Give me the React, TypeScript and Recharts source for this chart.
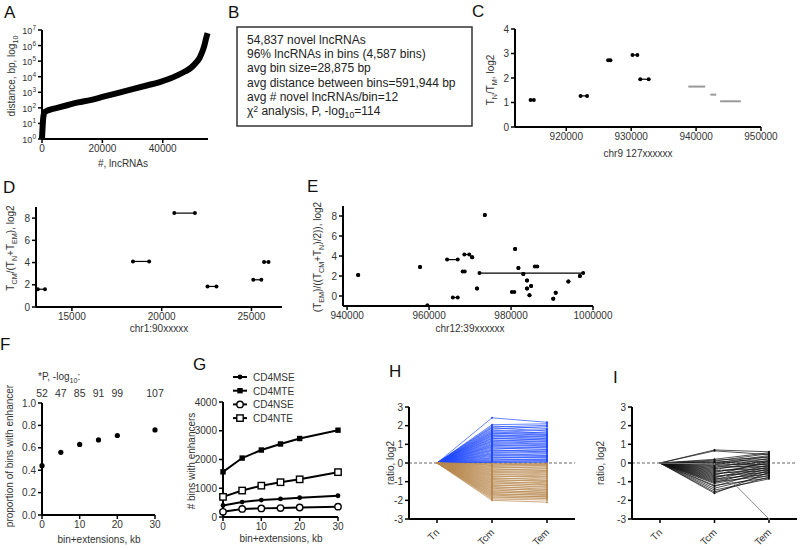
import React from 'react';
import { LineChart, Line, ScatterChart, Scatter, XAxis, YAxis, ReferenceLine } from 'recharts';

// A: lncRNA rank vs log10 distance (bp)
const aRank = [0, 150, 300, 500, 800, 1500, 3000, 5000, 8000, 12000, 16000, 20000, 25000, 30000, 35000, 39000, 42000, 45000, 47500, 49500, 51000, 52200, 53100, 53800, 54300, 54837];
const aLogDist = [0, 0.6, 1.1, 1.5, 1.7, 1.8, 1.9, 2.0, 2.15, 2.35, 2.5, 2.7, 2.95, 3.2, 3.45, 3.65, 3.85, 4.1, 4.35, 4.6, 4.9, 5.2, 5.6, 6.0, 6.4, 6.8];

// B: summary box
const bLines = [
  '54,837 novel lncRNAs',
  '96% lncRNAs in bins (4,587 bins)',
  'avg bin size=28,875 bp',
  'avg distance between bins=591,944 bp',
  'avg # novel lncRNAs/bin=12',
];

// C/D/E: segments [start, end, log2 ratio]
const cBlack = [[914500, 915000, 1.1], [922200, 923200, 1.27], [926450, 926800, 2.72], [930200, 930950, 2.94], [931400, 932700, 1.95]];
const cGray = [[938800, 941400, 1.65], [942200, 943100, 1.32], [943700, 946900, 1.05]];
const dSegs = [[13100, 13500, 1.6], [18400, 19300, 4.1], [20700, 21850, 8.45], [22550, 23050, 1.85], [25100, 25550, 2.45], [25700, 25950, 4.05]];
const eSegs = [
  [942700, 942700, 2.1], [957800, 957800, 2.9], [959600, 959600, -0.95], [964400, 967000, 3.64],
  [965800, 967000, -0.15], [968200, 968700, 2.45], [968600, 969800, 4.15], [970500, 970500, 3.87],
  [971700, 971700, 0.74], [972300, 997600, 2.29], [973600, 973600, 8.1], [980200, 980800, 0.4],
  [981000, 981000, 4.7], [981800, 981800, 2.8], [983000, 983000, 2.2], [983900, 983900, 1.55],
  [983900, 983900, 0.74], [984900, 984900, 1.0], [984500, 984500, 0.07], [985800, 986400, 2.96],
  [990300, 990300, -0.27], [990900, 990900, 0.33], [994000, 994000, 1.45], [996800, 996800, 2.0],
];

// F: proportion of bins with enhancer
const fExt = [0, 5, 10, 15, 20, 30];
const fProp = [0.44, 0.56, 0.63, 0.67, 0.71, 0.76];
const fPlog = [52, 47, 85, 91, 99, 107];

// G: # bins with enhancers
const gExt = [0, 5, 10, 15, 20, 30];
const gMSE = [400, 520, 590, 630, 670, 740];
const gMTE = [1570, 2050, 2330, 2540, 2730, 3020];
const gNSE = [180, 280, 300, 310, 330, 360];
const gNTE = [700, 920, 1090, 1210, 1310, 1560];

// H/I: log2 ratio, [Tcm, Tem], Tn is the reference (0)
const ratioCats = ['Tn', 'Tcm', 'Tem'];
const tnValue = 0;
const hUp = [
  [2.42, 2.18], [2.05, 2.1], [1.98, 1.85], [1.92, 2.02], [1.88, 1.72], [1.81, 1.95], [1.76, 1.6], [1.7, 1.78],
  [1.66, 1.55], [1.61, 1.48], [1.57, 1.66], [1.52, 1.4], [1.47, 1.52], [1.44, 1.3], [1.38, 1.45], [1.33, 1.22],
  [1.3, 1.35], [1.24, 1.15], [1.19, 1.28], [1.15, 1.05], [1.1, 1.18], [1.04, 0.98], [0.99, 1.08], [0.95, 0.88],
  [0.9, 0.95], [0.86, 0.8], [0.81, 0.72], [0.75, 0.85], [0.7, 0.62], [0.66, 0.7], [0.61, 0.55], [0.55, 0.64],
  [0.5, 0.42], [0.46, 0.5], [0.41, 0.35], [0.36, 0.4], [0.3, 0.28], [0.26, 0.32], [0.21, 0.18], [0.16, 0.22],
  [0.12, 0.1], [0.08, 0.14], [0.05, 0.06], [0.03, 0.04],
];
const hDown = [
  [-0.03, -0.02], [-0.06, -0.08], [-0.1, -0.05], [-0.14, -0.16], [-0.19, -0.12], [-0.23, -0.27], [-0.28, -0.2],
  [-0.32, -0.38], [-0.37, -0.3], [-0.41, -0.46], [-0.46, -0.4], [-0.5, -0.58], [-0.55, -0.5], [-0.6, -0.7],
  [-0.64, -0.62], [-0.69, -0.8], [-0.73, -0.72], [-0.78, -0.92], [-0.83, -0.85], [-0.88, -1.0], [-0.92, -0.95],
  [-0.97, -1.12], [-1.02, -1.05], [-1.06, -1.2], [-1.11, -1.15], [-1.16, -1.3], [-1.2, -1.25], [-1.25, -1.42],
  [-1.3, -1.35], [-1.35, -1.5], [-1.39, -1.45], [-1.44, -1.6], [-1.49, -1.55], [-1.53, -1.68], [-1.58, -1.62],
  [-1.63, -1.75], [-1.68, -1.7], [-1.72, -1.82], [-1.77, -1.8], [-1.82, -1.9], [-1.87, -1.88], [-1.93, -1.98],
  [-2.0, -2.1],
];
const iLines = [
  [0.7, 0.6], [0.65, 0.45], [0.2, 0.55], [0.15, 0.3], [0.1, 0.5], [0.05, 0.2], [0.0, 0.4], [0.0, 0.1],
  [-0.05, -0.1], [-0.1, 0.35], [-0.15, 0.05], [-0.2, -0.2], [-0.25, 0.25], [-0.3, -0.05], [-0.35, 0.15],
  [-0.4, -0.3], [-0.45, -0.15], [-0.5, 0.0], [-0.55, -0.4], [-0.6, -0.25], [-0.65, 0.1], [-0.7, -0.5],
  [-0.75, -0.35], [-0.8, -0.1], [-0.85, -0.6], [-0.9, -0.2], [-0.95, -0.45], [-1.0, -0.7], [-1.05, -0.3],
  [-1.1, -0.55], [-1.2, -0.8], [-1.25, -0.4], [-1.35, -0.65], [-1.45, -0.85], [-1.55, -0.75], [-1.62, -0.5],
];
const iOutlier = [[-0.05, -3.0]];

const L = 60;
const T = 10;
const B = 45;
const AX = { stroke: '#000', strokeWidth: 2 };
const TL = { stroke: '#000', strokeWidth: 1.5 };
const TK = { fill: '#333', fontSize: 10 };

// place a chart so its plot area lands on the given page rect
function frame(x0: number, y0: number, x1: number, y1: number, right = 24, top = 0) {
  return {
    style: { position: 'absolute' as const, left: x0 - L, top: y0 - T - top },
    width: x1 - x0 + L + right,
    height: y1 - y0 + T + B + top,
    margin: { top: T, right, bottom: 0, left: 0 },
  };
}

function PowTick({ x, y, payload }: any) {
  return (
    <text x={x} y={y + 4} textAnchor="end" fill="#333" fontSize={9}>
      10<tspan dy={-4} fontSize={6.5}>{payload.value}</tspan>
    </text>
  );
}

function RotTick({ x, y, payload }: any) {
  return (
    <text transform={`translate(${x + 3},${y + 8}) rotate(-45)`} textAnchor="end" fill="#333" fontSize={10}>
      {payload.value}
    </text>
  );
}

const dotShape = (r: number, color: string) => (p: any) => <circle cx={p.cx} cy={p.cy} r={r} fill={color} />;
const noShape = () => <g />;

function PanelA() {
  const f = frame(42, 30, 208, 139);
  const rows = aRank.map((n, i) => ({ n, d: aLogDist[i] }));
  return (
    <div style={f.style}>
      <LineChart width={f.width} height={f.height} data={rows} margin={f.margin}>
        <XAxis dataKey="n" type="number" domain={[0, 55000]} ticks={[0, 20000, 40000]} height={B}
          axisLine={AX} tickLine={TL} tickSize={4} tick={TK} />
        <YAxis type="number" domain={[0, 7]} ticks={[0, 1, 2, 3, 4, 5, 6, 7]} width={L} interval={0}
          axisLine={AX} tickLine={TL} tickSize={4} tick={(p: any) => <PowTick {...p} />} />
        <Line dataKey="d" type="monotone" stroke="#000" strokeWidth={6} dot={false} isAnimationActive={false} />
      </LineChart>
    </div>
  );
}

interface SegGroup { segs: number[][]; color: string; width: number; dots: boolean }

function SegmentPanel({ rect, xDomain, xTicks, yDomain, yTicks, groups }: {
  rect: number[]; xDomain: number[]; xTicks: number[]; yDomain: number[]; yTicks: number[]; groups: SegGroup[];
}) {
  const f = frame(rect[0], rect[1], rect[2], rect[3]);
  return (
    <div style={f.style}>
      <ScatterChart width={f.width} height={f.height} margin={f.margin}>
        <XAxis dataKey="x" type="number" domain={xDomain} ticks={xTicks} height={B} allowDataOverflow interval={0}
          axisLine={AX} tickLine={TL} tickSize={4} tick={TK} />
        <YAxis dataKey="y" type="number" domain={yDomain} ticks={yTicks} width={L} allowDataOverflow interval={0}
          axisLine={AX} tickLine={TL} tickSize={4} tick={TK} />
        {groups.flatMap((g, gi) => g.segs.map(([x1, x2, y], i) => (
          <Scatter key={`${gi}-${i}`} data={[{ x: x1, y }, { x: x2, y }]} fill={g.color}
            line={{ stroke: g.color, strokeWidth: g.width }}
            shape={g.dots ? dotShape(2, g.color) : noShape} isAnimationActive={false} />
        )))}
      </ScatterChart>
    </div>
  );
}

function PanelF() {
  const f = frame(42, 403, 155, 515, 24, 16);
  const rows = fExt.map((x, i) => ({ x, y: fProp[i] }));
  return (
    <div style={f.style}>
      <ScatterChart width={f.width} height={f.height} margin={f.margin}>
        <XAxis xAxisId="b" dataKey="x" type="number" domain={[0, 30]} ticks={[0, 10, 20, 30]} height={B}
          axisLine={AX} tickLine={TL} tickSize={4} tick={TK} />
        <XAxis xAxisId="t" orientation="top" dataKey="x" type="number" domain={[0, 30]} ticks={fExt} height={16}
          interval={0} axisLine={false} tickLine={false} tickSize={4} tick={{ fill: '#333', fontSize: 10.5 }}
          tickFormatter={(v: number) => String(fPlog[fExt.indexOf(v)])} />
        <YAxis dataKey="y" type="number" domain={[0, 1]} ticks={[0, 0.2, 0.4, 0.6, 0.8, 1]} width={L} interval={0}
          axisLine={AX} tickLine={TL} tickSize={4} tick={TK} tickFormatter={(v: number) => v.toFixed(1)} />
        <Scatter xAxisId="b" data={rows} fill="#000" shape={dotShape(2.6, '#000')} isAnimationActive={false} />
        <Scatter xAxisId="t" data={rows} shape={noShape} isAnimationActive={false} />
      </ScatterChart>
    </div>
  );
}

function Marker({ cx, cy, kind }: { cx: number; cy: number; kind: string }) {
  if (kind === 'dot') return <circle cx={cx} cy={cy} r={2.4} fill="#000" />;
  if (kind === 'square') return <rect x={cx - 2.7} y={cy - 2.7} width={5.4} height={5.4} fill="#000" />;
  if (kind === 'ocircle') return <circle cx={cx} cy={cy} r={3.2} fill="#fff" stroke="#000" strokeWidth={1.4} />;
  return <rect x={cx - 3.2} y={cy - 3.2} width={6.4} height={6.4} fill="#fff" stroke="#000" strokeWidth={1.4} />;
}

const gSeries = [
  { key: 'mse', name: 'CD4MSE', kind: 'dot', values: gMSE },
  { key: 'mte', name: 'CD4MTE', kind: 'square', values: gMTE },
  { key: 'nse', name: 'CD4NSE', kind: 'ocircle', values: gNSE },
  { key: 'nte', name: 'CD4NTE', kind: 'osquare', values: gNTE },
];

function PanelG() {
  const f = frame(223, 402, 338, 517);
  const rows = gExt.map((x, i) => {
    const r: Record<string, number> = { x };
    gSeries.forEach(s => { r[s.key] = s.values[i]; });
    return r;
  });
  return (
    <div style={f.style}>
      <LineChart width={f.width} height={f.height} data={rows} margin={f.margin}>
        <XAxis dataKey="x" type="number" domain={[0, 30]} ticks={[0, 10, 20, 30]} height={B}
          axisLine={AX} tickLine={TL} tickSize={4} tick={TK} />
        <YAxis type="number" domain={[0, 4000]} ticks={[0, 1000, 2000, 3000, 4000]} width={L} interval={0}
          axisLine={AX} tickLine={TL} tickSize={4} tick={TK} />
        {gSeries.map(s => (
          <Line key={s.key} dataKey={s.key} stroke="#000" strokeWidth={2} isAnimationActive={false}
            dot={(p: any) => <Marker key={`${s.key}${p.index}`} cx={p.cx} cy={p.cy} kind={s.kind} />} />
        ))}
      </LineChart>
    </div>
  );
}

interface RatioGroup { id: string; lines: number[][]; color: string; width: number; opacity: number }

function RatioPanel({ rect, groups, right }: { rect: number[]; groups: RatioGroup[]; right: number }) {
  const f = frame(rect[0], rect[1], rect[2], rect[3], right);
  const rows = ratioCats.map((cat, ci) => {
    const r: Record<string, number | string> = { cat };
    groups.forEach(g => g.lines.forEach((p, k) => { r[g.id + k] = ci === 0 ? tnValue : p[ci - 1]; }));
    return r;
  });
  return (
    <div style={f.style}>
      <LineChart width={f.width} height={f.height} data={rows} margin={f.margin}>
        <XAxis dataKey="cat" padding={{ left: 28, right: 28 }} interval={0} height={B}
          axisLine={AX} tickLine={TL} tickSize={4} tick={(p: any) => <RotTick {...p} />} />
        <YAxis type="number" domain={[-3, 3]} ticks={[-3, -2, -1, 0, 1, 2, 3]} width={L} interval={0}
          axisLine={AX} tickLine={TL} tickSize={4} tick={TK} />
        <ReferenceLine y={0} stroke="#666" strokeWidth={1} strokeDasharray="3 2" />
        {groups.flatMap(g => g.lines.map((_, k) => (
          <Line key={g.id + k} dataKey={g.id + k} stroke={g.color} strokeWidth={g.width} strokeOpacity={g.opacity}
            dot={{ r: 1, fill: g.color, stroke: 'none' }} isAnimationActive={false} />
        )))}
      </LineChart>
    </div>
  );
}

type Part = [string, number];

function Rich({ parts, size }: { parts: Part[]; size: number }) {
  let cur = 0;
  return (
    <>
      {parts.map(([t, s], i) => {
        const dy = s - cur;
        cur = s;
        return <tspan key={i} dy={dy} fontSize={s ? size * 0.72 : size}>{t}</tspan>;
      })}
    </>
  );
}

const letters: [string, number, number][] = [
  ['A', 4, 18], ['B', 228, 18], ['C', 472, 17], ['D', 3, 193], ['E', 307, 192],
  ['F', 0, 350], ['G', 193, 370], ['H', 389, 377], ['I', 613, 383],
];
const xTitles: [string, number, number][] = [
  ['#, lncRNAs', 123, 167], ['chr9 127xxxxxx', 638, 157], ['chr1:90xxxxx', 159, 332],
  ['chr12:39xxxxxx', 470, 332], ['bin+extensions, kb', 99, 543], ['bin+extensions, kb', 281, 542],
];
const yTitles: [Part[], number, number][] = [
  [[['distance, bp, log', 0], ['10', 3]], 15, 76],
  [[['T', 0], ['N', 3], ['/T', 0], ['M', 3], [', log2', 0]], 494, 80],
  [[['T', 0], ['CM', 3], ['/(T', 0], ['N', 3], ['+T', 0], ['EM', 3], ['), log2', 0]], 14, 248],
  [[['(T', 0], ['EM', 3], [')/((T', 0], ['CM', 3], ['+T', 0], ['N', 3], [')/2)), log2', 0]], 321, 257],
  [[['proportion of bins with enhancer', 0]], 13, 456],
  [[['# bins with enhancers', 0]], 195, 461],
  [[['ratio, log2', 0]], 394, 463],
  [[['ratio, log2', 0]], 604, 463],
];

function Overlay() {
  return (
    <svg width={800} height={550} style={{ position: 'absolute', left: 0, top: 0, pointerEvents: 'none' }}>
      {letters.map(([t, x, y]) => (
        <text key={t} x={x} y={y} fontSize={17} fill="#111">{t}</text>
      ))}
      {xTitles.map(([t, x, y], i) => (
        <text key={i} x={x} y={y} fontSize={10} fill="#333" textAnchor="middle">{t}</text>
      ))}
      {yTitles.map(([parts, x, y], i) => (
        <text key={i} transform={`translate(${x},${y}) rotate(-90)`} fill="#333" textAnchor="middle">
          <Rich parts={parts} size={10} />
        </text>
      ))}
      <rect x={237} y={27} width={235} height={99} fill="none" stroke="#333" strokeWidth={1.5} />
      {bLines.map((t, i) => (
        <text key={t} x={247} y={44 + i * 14.2} fontSize={12} fill="#222">{t}</text>
      ))}
      <text x={247} y={115} fill="#222">
        <Rich parts={[['χ', 0], ['2', -3.5], [' analysis, P, -log', 0], ['10', 3], ['=114', 0]]} size={12} />
      </text>
      <text x={38} y={380} fill="#333">
        <Rich parts={[['*P, -log', 0], ['10', 3], [':', 0]]} size={10} />
      </text>
      {gSeries.map((s, i) => (
        <g key={s.key}>
          <line x1={233} x2={247} y1={377 + i * 13.7} y2={377 + i * 13.7} stroke="#000" strokeWidth={2} />
          <Marker cx={240} cy={377 + i * 13.7} kind={s.kind} />
          <text x={253} y={381 + i * 13.7} fontSize={10} fill="#333">{s.name}</text>
        </g>
      ))}
    </svg>
  );
}

export default function App() {
  return (
    <div style={{
      position: 'absolute', left: 0, top: 0, width: 800, height: 550, overflow: 'hidden',
      background: '#fff', fontFamily: "'Liberation Sans', Arial, sans-serif",
    }}>
      <PanelA />
      <SegmentPanel rect={[515, 29, 761, 127]} xDomain={[912100, 950000]} xTicks={[920000, 930000, 940000, 950000]}
        yDomain={[0, 4]} yTicks={[0, 1, 2, 3, 4]}
        groups={[{ segs: cBlack, color: '#000', width: 1.2, dots: true }, { segs: cGray, color: '#999', width: 2, dots: false }]} />
      <SegmentPanel rect={[36, 207, 282, 307]} xDomain={[13000, 26700]} xTicks={[15000, 20000, 25000]}
        yDomain={[0, 9]} yTicks={[0, 2, 4, 6, 8]}
        groups={[{ segs: dSegs, color: '#000', width: 1.2, dots: true }]} />
      <SegmentPanel rect={[343, 206, 593, 306]} xDomain={[939000, 1000000]} xTicks={[940000, 960000, 980000, 1000000]}
        yDomain={[-1, 9]} yTicks={[0, 2, 4, 6, 8]}
        groups={[{ segs: eSegs, color: '#000', width: 1.2, dots: true }]} />
      <PanelF />
      <PanelG />
      <RatioPanel rect={[409, 407, 575, 519]} right={24} groups={[
        { id: 'up', lines: hUp, color: '#1f48ff', width: 0.8, opacity: 0.85 },
        { id: 'dn', lines: hDown, color: '#b8884f', width: 0.8, opacity: 0.9 },
      ]} />
      <RatioPanel rect={[632, 407, 797, 519]} right={2} groups={[
        { id: 'i', lines: iLines, color: '#111', width: 0.8, opacity: 0.9 },
        { id: 'o', lines: iOutlier, color: '#888', width: 1, opacity: 1 },
      ]} />
      <Overlay />
    </div>
  );
}
